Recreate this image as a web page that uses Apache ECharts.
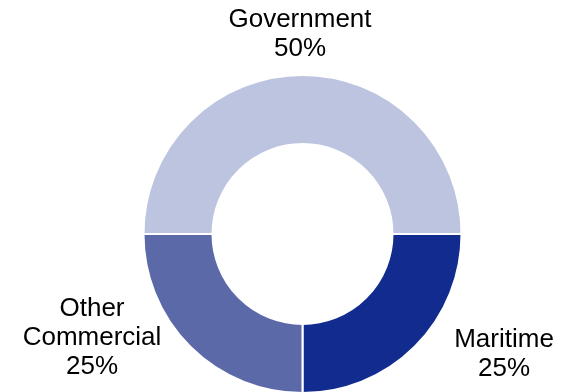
<!DOCTYPE html>
<html>
<head>
<meta charset="utf-8">
<script src="https://cdn.jsdelivr.net/npm/echarts@6/dist/echarts.min.js"></script>
<style>
  html, body { margin: 0; padding: 0; background: #fff; }
  #chart { width: 562px; height: 392px; }
</style>
</head>
<body>
<div id="chart"></div>
<script>
// Revenue mix by segment
const segments = ['Government', 'Maritime', 'Other Commercial'];
const shares = [50, 25, 25];
const segmentColors = ['#bcc4e0', '#122b8e', '#5b69a8'];

// Where each label block is centred (by segment)
const labelSpots = {
  'Government': { x: 300, y: 34 },
  'Maritime': { x: 504, y: 354 },
  'Other Commercial': { x: 92, y: 338 }
};

const chart = echarts.init(document.getElementById('chart'), null, { renderer: 'canvas' });

chart.setOption({
  animation: false,
  series: [{
    type: 'pie',
    center: [302.5, 234],
    radius: [90, 159],
    startAngle: 180,
    clockwise: true,
    avoidLabelOverlap: false,
    itemStyle: { borderColor: '#ffffff', borderWidth: 2 },
    label: {
      show: true,
      position: 'outside',
      formatter: p => p.name.replace(' ', '\n') + '\n' + p.value + '%',
      fontFamily: 'Liberation Sans, Arial, sans-serif',
      fontSize: 26,
      lineHeight: 29,
      color: '#000000',
      align: 'center'
    },
    labelLine: { show: false },
    labelLayout: p => {
      const first = p.text.split('\n')[0];
      const s = labelSpots[first === 'Other' ? 'Other Commercial' : first];
      return { x: s.x, y: s.y, align: 'center', verticalAlign: 'middle' };
    },
    data: segments.map((name, i) => ({
      name: name,
      value: shares[i],
      itemStyle: { color: segmentColors[i] }
    }))
  }]
});
</script>
</body>
</html>
